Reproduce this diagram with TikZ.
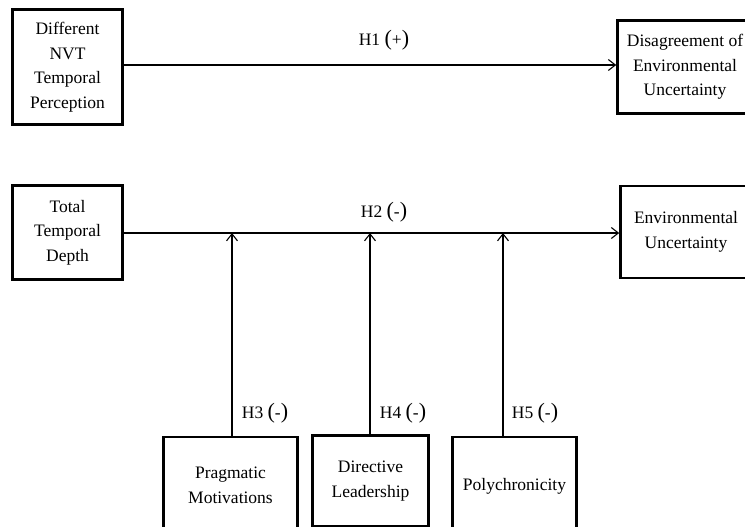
\documentclass[tikz,border=0pt]{standalone}
\usepackage{fontspec}
\setmainfont{Liberation Serif}
\usetikzlibrary{arrows.meta,calc}
\newcommand{\bigparen}[1]{{\fontsize{22}{22}\selectfont(}#1{\fontsize{22}{22}\selectfont)}}
\tikzset{
  box/.style={draw, line width=2.6pt, align=center, inner sep=0pt,
    font=\fontsize{17.5}{24.5}\selectfont},
  conn/.style={line width=1.1pt, -{Straight Barb[length=7pt,width=11pt,line width=1.1pt]}},
  lbl/.style={font=\fontsize{17.5}{21}\selectfont, inner sep=0pt}
}
\begin{document}
\begin{tikzpicture}[x=1pt,y=-1pt]
\useasboundingbox (0,0) rectangle (745,527);
\clip (0,0) rectangle (745,527);
\fill[white] (0,0) rectangle (745,527);
% boxes
\node[box, minimum width=110pt, minimum height=115pt] (nvt) at (67.5,67) {Different\\NVT\\Temporal\\Perception};
\node[box, minimum width=135pt, minimum height=93pt] (dis) at (685,67) {Disagreement of\\Environmental\\Uncertainty};
\node[box, minimum width=110pt, minimum height=94pt] (ttd) at (67.5,232.5) {Total\\Temporal\\Depth};
\node[box, minimum width=131pt, minimum height=92pt] (env) at (686,232) {Environmental\\Uncertainty};
\node[box, minimum width=134pt, minimum height=97pt] (prag) at (230.5,485.5) {Pragmatic\\Motivations};
\node[box, minimum width=116pt, minimum height=91pt] (dir) at (370.5,481) {Directive\\Leadership};
\node[box, minimum width=124pt, minimum height=98pt] (poly) at (514.5,486) {Polychronicity};
% horizontal arrows
\draw[conn] (nvt.east |- 0,65) -- (dis.west |- 0,65);
\draw[conn] (ttd.east |- 0,233) -- (env.west |- 0,233);
% moderator attachment points on H2 line
\coordinate (m3) at (232,233);
\coordinate (m4) at (370,233);
\coordinate (m5) at (503,233);
\draw[conn] (prag.north -| m3) -- (m3);
\draw[conn] (dir.north -| m4) -- (m4);
\draw[conn] (poly.north -| m5) -- (m5);
% labels
\node[lbl] (h1) at (384,40) {H1 \bigparen{+}};
\node[lbl] (h2) at (384,212) {H2 \bigparen{-}};
\node[lbl] (h3) at (265,413) {H3 \bigparen{-}};
\node[lbl] (h4) at (403,413) {H4 \bigparen{-}};
\node[lbl] (h5) at (535,413) {H5 \bigparen{-}};
\end{tikzpicture}
\end{document}
